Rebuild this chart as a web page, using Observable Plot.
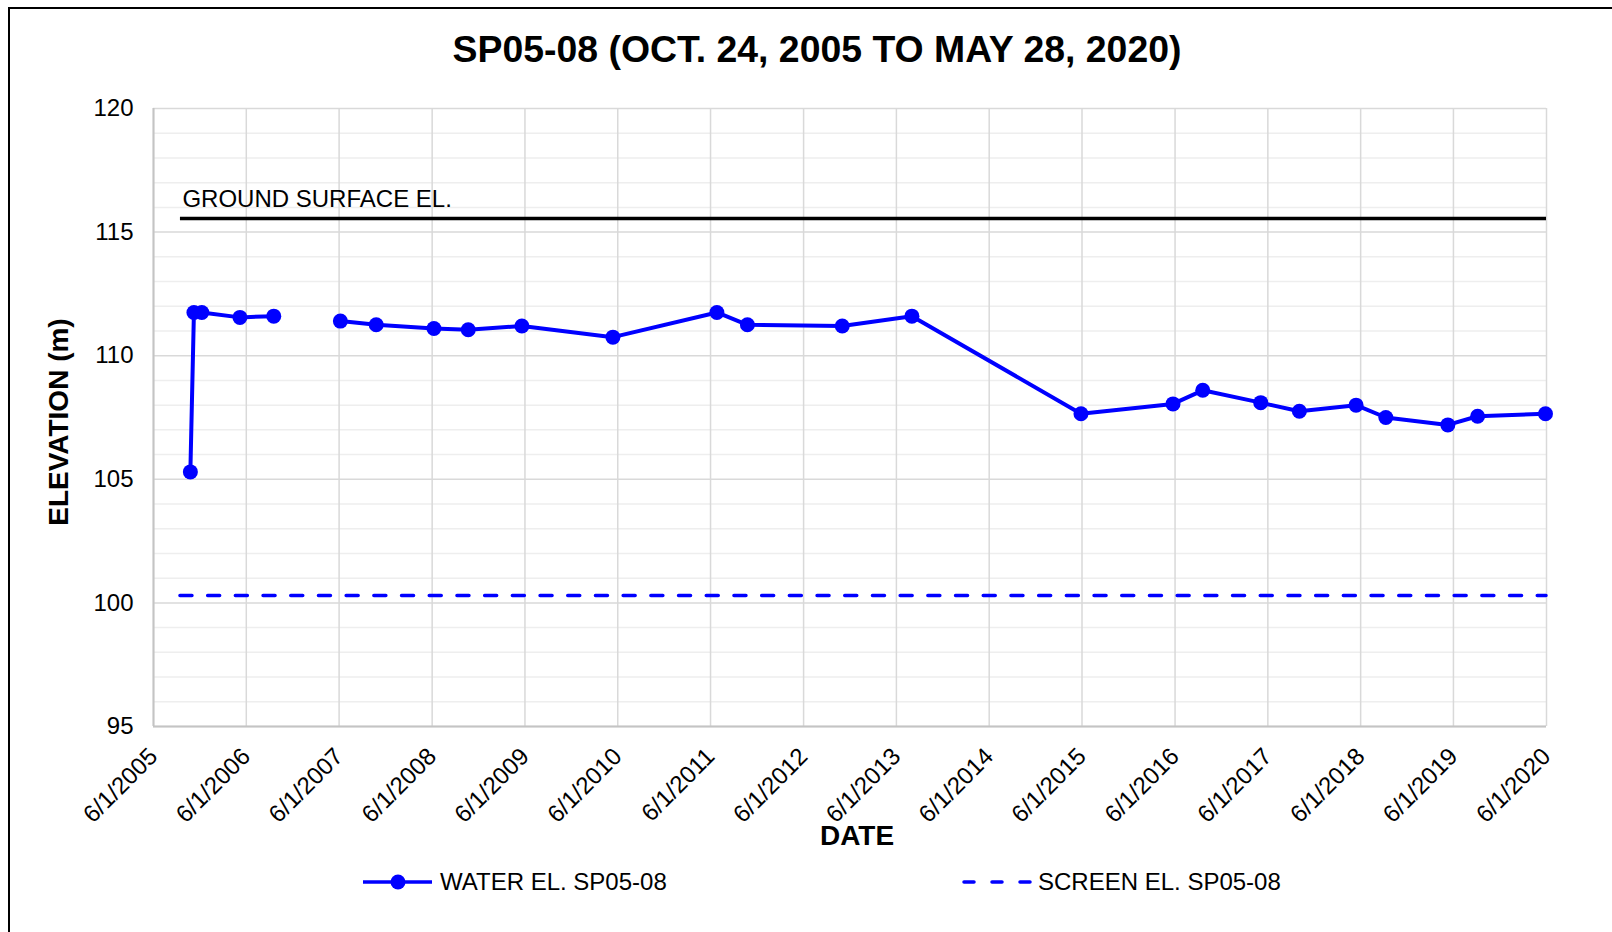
<!DOCTYPE html>
<html>
<head>
<meta charset="utf-8">
<script src="https://cdn.jsdelivr.net/npm/d3@7"></script>
<script src="https://cdn.jsdelivr.net/npm/@observablehq/plot@0.6"></script>
<style>
  html, body { margin: 0; padding: 0; background: #fff; }
  #frame { position: relative; width: 1612px; height: 932px; overflow: hidden; background: #fff;
           font-family: "Liberation Sans", Arial, Helvetica, sans-serif; color: #000; }
  #border { position: absolute; left: 8px; top: 7px; width: 3000px; height: 3000px;
            border-left: 2px solid #000; border-top: 2px solid #000; }
  #title { position: absolute; left: 817px; top: 50px; transform: translate(-50%, -50%);
           font-size: 37.4px; font-weight: bold; white-space: nowrap; line-height: 1; }
  #chart { position: absolute; left: 0; top: 80px; }
  .leg { position: absolute; top: 860px; height: 44px; display: flex; align-items: center; }
  .leg span { font-size: 24px; line-height: 1; white-space: nowrap; margin-left: 7px; }
</style>
</head>
<body>
<div id="frame">
  <div id="border"></div>
  <div id="title"></div>
  <div id="chart"></div>
  <div class="leg" id="leg1" style="left:363px"></div>
  <div class="leg" id="leg2" style="left:962px"></div>
</div>
<script>
// ---- texts ----
const titleText = "SP05-08 (OCT. 24, 2005 TO MAY 28, 2020)";
const yLabel = "ELEVATION (m)";
const xLabel = "DATE";
const groundLabel = "GROUND SURFACE EL.";
const legendLabels = ["WATER EL. SP05-08", "SCREEN EL. SP05-08"];

// ---- water elevation series ----
const waterDates = [
  "2005-10-24", "2005-11-07", "2005-12-08", "2006-05-07", "2006-09-17",
  "2007-06-06", "2007-10-25", "2008-06-08", "2008-10-21", "2009-05-20",
  "2010-05-13", "2011-06-26", "2011-10-24", "2012-10-31", "2013-08-01",
  "2015-05-28", "2016-05-24", "2016-09-18", "2017-05-04", "2017-10-03",
  "2018-05-14", "2018-09-08", "2019-05-10", "2019-09-04", "2020-05-28"
];
const waterElev = [
  105.3, 111.75, 111.75, 111.55, 111.6,
  111.4, 111.25, 111.1, 111.05, 111.2,
  110.75, 111.75, 111.25, 111.2, 111.6,
  107.65, 108.05, 108.6, 108.1, 107.75,
  108.0, 107.5, 107.2, 107.55, 107.65
];
// connected runs (the record has a break between Sept 2006 and June 2007)
const waterRun = [
  1, 1, 1, 1, 1,
  2, 2, 2, 2, 2,
  2, 2, 2, 2, 2,
  2, 2, 2, 2, 2,
  2, 2, 2, 2, 2
];

// ---- reference elevations ----
const groundElev = 115.55;
const screenElev = 100.3;
const refLineDates = ["2005-09-15", "2020-06-01"];

// ---- ticks ----
const xTickYears = [2005, 2006, 2007, 2008, 2009, 2010, 2011, 2012, 2013, 2014, 2015, 2016, 2017, 2018, 2019, 2020];
const yMajorTicks = [95, 100, 105, 110, 115, 120];
const yMinorTicks = [96, 97, 98, 99, 101, 102, 103, 104, 106, 107, 108, 109, 111, 112, 113, 114, 116, 117, 118, 119];

const FONT = '"Liberation Sans", Arial, Helvetica, sans-serif';
const BLUE = "#0000ff";

const parse = s => new Date(s + "T00:00:00Z");
const water = waterDates.map((d, i) => ({date: parse(d), elev: waterElev[i], run: waterRun[i]}));
const xTicks = xTickYears.map(y => new Date(Date.UTC(y, 5, 1)));
const refLine = refLineDates.map(parse);

document.getElementById("title").textContent = titleText;

const chart = Plot.plot({
  width: 1612,
  height: 780,
  marginLeft: 153,
  marginRight: 66,
  marginTop: 28,
  marginBottom: 134,
  style: {fontFamily: FONT, fontSize: "24px", color: "#000", background: "transparent", overflow: "visible"},
  x: {type: "utc", domain: [xTicks[0], xTicks[xTicks.length - 1]]},
  y: {domain: [95, 120]},
  marks: [
    Plot.ruleY(yMinorTicks, {stroke: "#eeeeee", strokeWidth: 1.5}),
    Plot.ruleY(yMajorTicks, {stroke: "#d9d9d9", strokeWidth: 1.5}),
    Plot.ruleX(xTicks, {stroke: "#d9d9d9", strokeWidth: 1.5}),
    Plot.ruleX([xTicks[0]], {stroke: "#c4c4c4", strokeWidth: 2}),
    Plot.ruleY([95], {stroke: "#c4c4c4", strokeWidth: 2}),
    Plot.axisY({ticks: yMajorTicks, tickSize: 0, tickPadding: 20, fontSize: 24, label: null}),
    Plot.axisX({ticks: xTicks, tickSize: 0, tickPadding: 26, tickRotate: -45, fontSize: 24, label: null,
                tickFormat: d => `6/1/${d.getUTCFullYear()}`}),
    Plot.ruleY([groundElev], {x1: () => refLine[0], x2: () => refLine[1], stroke: "#000", strokeWidth: 3.5}),
    Plot.text([groundLabel], {x: () => refLine[0], y: () => groundElev, text: d => d,
                              textAnchor: "start", lineAnchor: "bottom", dx: 2, dy: -11.6, fontSize: 24}),
    Plot.ruleY([screenElev], {x1: () => refLine[0], x2: () => refLine[1], stroke: BLUE, strokeWidth: 3.5,
                              strokeDasharray: "12,15.7", strokeLinecap: "round"}),
    Plot.line(water, {x: "date", y: "elev", z: "run", stroke: BLUE, strokeWidth: 4}),
    Plot.dot(water, {x: "date", y: "elev", r: 7.5, fill: BLUE}),
    Plot.text([yLabel], {frameAnchor: "left", text: d => d, rotate: -90, textAnchor: "middle",
                         dx: -94.5, dy: 4.5, fontSize: 28, fontWeight: "bold"}),
    Plot.text([xLabel], {frameAnchor: "bottom", text: d => d, dx: 7, dy: 110, lineAnchor: "middle",
                         fontSize: 28, fontWeight: "bold"})
  ]
});
document.getElementById("chart").appendChild(chart);

// ---- legend ----
const ns = "http://www.w3.org/2000/svg";
function swatch(kind) {
  const svg = document.createElementNS(ns, "svg");
  svg.setAttribute("width", 70);
  svg.setAttribute("height", 20);
  const line = document.createElementNS(ns, "line");
  line.setAttribute("y1", 10); line.setAttribute("y2", 10);
  line.setAttribute("stroke", BLUE);
  line.setAttribute("stroke-width", 3.5);
  if (kind === "water") {
    line.setAttribute("x1", 0); line.setAttribute("x2", 69);
    svg.appendChild(line);
    const c = document.createElementNS(ns, "circle");
    c.setAttribute("cx", 35); c.setAttribute("cy", 10); c.setAttribute("r", 7.5);
    c.setAttribute("fill", BLUE);
    svg.appendChild(c);
  } else {
    line.setAttribute("x1", 2); line.setAttribute("x2", 70);
    line.setAttribute("stroke-dasharray", "10,18");
    line.setAttribute("stroke-linecap", "round");
    svg.appendChild(line);
  }
  return svg;
}
const leg1 = document.getElementById("leg1");
leg1.appendChild(swatch("water"));
const s1 = document.createElement("span"); s1.textContent = legendLabels[0]; leg1.appendChild(s1);
const leg2 = document.getElementById("leg2");
leg2.appendChild(swatch("screen"));
const s2 = document.createElement("span"); s2.textContent = legendLabels[1]; s2.style.marginLeft = "6px"; leg2.appendChild(s2);
</script>
</body>
</html>
